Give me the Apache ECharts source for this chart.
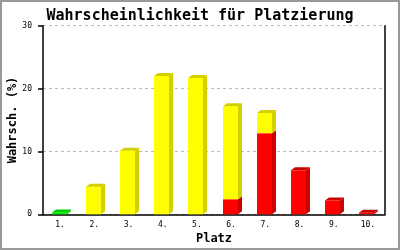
<!DOCTYPE html>
<html><head><meta charset="utf-8">
<script src="https://cdn.jsdelivr.net/npm/echarts@6/dist/echarts.min.js"></script>
<style>html,body{margin:0;padding:0;background:#fff}#c{width:400px;height:250px}</style>
</head><body><div id="c"></div>
<script>
const categories = ['1.','2.','3.','4.','5.','6.','7.','8.','9.','10.'];
const greenValues  = [0.3, 0, 0, 0, 0, 0, 0, 0, 0, 0];
const redValues    = [0, 0, 0, 0, 0, 2.4, 12.9, 7.0, 2.2, 0.25];
const yellowValues = [0, 4.4, 10.1, 22.0, 21.7, 14.8, 3.2, 0, 0, 0];
const yTicks = [0, 10, 20, 30];

const FONT = '"DejaVu Sans Mono", "Liberation Mono", monospace';

// build stacked segments [index, base, top]
const greenData = [], redData = [], yellowData = [];
categories.forEach((c, i) => {
  let base = 0;
  if (greenValues[i] > 0) { greenData.push([i, base, base + greenValues[i], 1]); base += greenValues[i]; }
  if (redValues[i] > 0) { redData.push([i, base, base + redValues[i], yellowValues[i] > 0 ? 0 : 1]); base += redValues[i]; }
  if (yellowValues[i] > 0) { yellowData.push([i, base, base + yellowValues[i], 1]); base += yellowValues[i]; }
});

function make3d(front, shade) {
  return function (params, api) {
    const i = api.value(0);
    const p0 = api.coord([i, api.value(1)]);
    const p1 = api.coord([i, api.value(2)]);
    const isTop = api.value(3) === 1;
    const w = 15, dx = 4, dy = 3;
    const x = Math.round(p0[0] - w / 2 - 1);
    const yb = p0[1], yt = p1[1];
    const children = [
      { type: 'polygon', shape: { points: [[x + w, yt], [x + w + dx, yt - dy], [x + w + dx, yb - dy], [x + w, yb]] }, style: { fill: shade } },
      { type: 'rect', shape: { x: x, y: yt, width: w, height: yb - yt }, style: { fill: front } }
    ];
    if (isTop) {
      children.push({ type: 'polygon', shape: { points: [[x, yt], [x + dx, yt - dy], [x + w + dx, yt - dy], [x + w, yt]] }, style: { fill: shade } });
    }
    return { type: 'group', children: children };
  };
}

const chart = echarts.init(document.getElementById('c'), null, { renderer: 'canvas' });
chart.setOption({
  backgroundColor: '#fff',
  animation: false,
  title: {
    text: 'Wahrscheinlichkeit für Platzierung',
    left: 'center', top: 4,
    textStyle: { fontFamily: FONT, fontSize: 15, fontWeight: 'bold', color: '#000' }
  },
  graphic: [{
    type: 'rect', shape: { x: 1, y: 1, width: 398, height: 248 },
    style: { fill: 'none', stroke: '#999', lineWidth: 2 }, silent: true
  }],
  grid: { left: 43, right: 15, top: 25.7, bottom: 35.7, containLabel: false, outerBoundsMode: 'none' },
  xAxis: {
    type: 'category', data: categories,
    name: 'Platz', nameLocation: 'middle', nameGap: 19, nameMoveOverlap: false,
    nameTextStyle: { fontFamily: FONT, fontSize: 12, fontWeight: 'bold', color: '#000' },
    axisLine: { lineStyle: { color: '#000', width: 1.5 } },
    axisTick: { show: false },
    axisLabel: { fontFamily: FONT, fontSize: 8, color: '#000', margin: 7 }
  },
  yAxis: [{
    type: 'value', min: 0, max: 30, interval: 10,
    name: 'Wahrsch. (%)', nameLocation: 'middle', nameGap: 24, nameMoveOverlap: false,
    nameTextStyle: { fontFamily: FONT, fontSize: 12, fontWeight: 'bold', color: '#000' },
    axisLine: { show: true, lineStyle: { color: '#000', width: 1.5 } },
    axisTick: { show: true, length: 5, lineStyle: { color: '#000', width: 1.5 } },
    axisLabel: { fontFamily: FONT, fontSize: 8, color: '#000', margin: 11,
      formatter: v => yTicks.includes(v) ? String(v) : '' },
    splitLine: { show: true, lineStyle: { color: '#bbb', type: [3, 3], width: 1 } }
  }, {
    type: 'value', min: 0, max: 30, interval: 10, position: 'right',
    axisLine: { show: true, lineStyle: { color: '#000', width: 1.5 } },
    axisTick: { show: false }, axisLabel: { show: false }, splitLine: { show: false }
  }],
  series: [
    { type: 'custom', renderItem: make3d('#00ee00', '#00cc00'), data: greenData, encode: { x: 0, y: [1, 2] } },
    { type: 'custom', renderItem: make3d('#ff0000', '#cc0000'), data: redData, encode: { x: 0, y: [1, 2] } },
    { type: 'custom', renderItem: make3d('#ffff00', '#d4d000'), data: yellowData, encode: { x: 0, y: [1, 2] } }
  ]
});
</script></body></html>
